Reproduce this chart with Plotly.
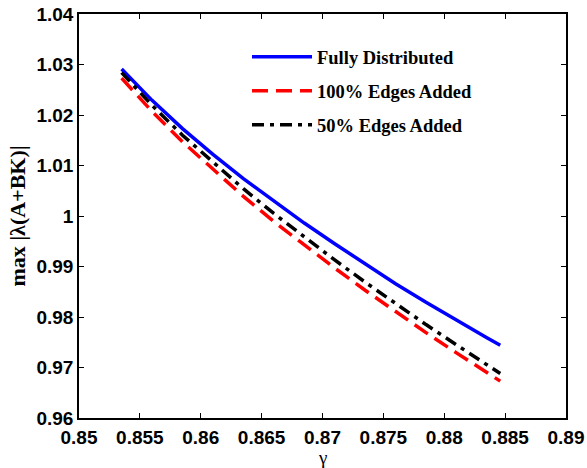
import plotly.graph_objects as go

gamma = [0.8535, 0.856, 0.8585, 0.861, 0.8635, 0.866, 0.8685, 0.871,
         0.8735, 0.876, 0.8785, 0.881, 0.8835, 0.8846]
fully_distributed = [1.0291, 1.0229, 1.0173, 1.0122, 1.0074, 1.0029, 0.9986,
                     0.9945, 0.9905, 0.9866, 0.9829, 0.9793, 0.9759, 0.9744]
edges_100 = [1.0273, 1.0207, 1.0147, 1.0092, 1.0039, 0.9989, 0.9942,
             0.9897, 0.9853, 0.9810, 0.9769, 0.9729, 0.9690, 0.9673]
edges_50 = [1.0284, 1.0219, 1.0160, 1.0106, 1.0054, 1.0005, 0.9958,
            0.9913, 0.9869, 0.9826, 0.9785, 0.9745, 0.9705, 0.9688]

series_names = ["Fully Distributed", "100% Edges Added", "50% Edges Added"]
x_ticks = [0.85, 0.855, 0.86, 0.865, 0.87, 0.875, 0.88, 0.885, 0.89]
x_tick_labels = ["0.85", "0.855", "0.86", "0.865", "0.87", "0.875", "0.88", "0.885", "0.89"]
y_ticks = [0.96, 0.97, 0.98, 0.99, 1.0, 1.01, 1.02, 1.03, 1.04]
y_tick_labels = ["0.96", "0.97", "0.98", "0.99", "1", "1.01", "1.02", "1.03", "1.04"]
x_title = "γ"
y_title = "max |λ(A+BK)|"

fig = go.Figure()
styles = [("#0000ff", "solid"), ("#ff0000", "16px,8px"), ("#000000", "12px,6px,4px,6px")]
for i, (ys, name) in enumerate(zip([fully_distributed, edges_100, edges_50], series_names)):
    c, d = styles[i]
    fig.add_trace(go.Scatter(x=gamma, y=ys, mode="lines", name=name, legendgroup=f"g{i}",
                             line=dict(color=c, width=3.5, dash=d)))

axis_common = dict(showgrid=False, zeroline=False, showline=True, linecolor="black",
                   linewidth=1.5, mirror="allticks", ticks="inside", ticklen=5,
                   tickcolor="black", tickwidth=1, automargin=False,
                   tickfont=dict(family="Liberation Sans", size=19, color="black", weight="bold"))

fig.update_layout(
    template="none",
    width=587, height=468,
    margin=dict(l=79, r=21, t=14, b=50),
    paper_bgcolor="white", plot_bgcolor="white",
    xaxis=dict(range=[0.85, 0.89], tickvals=x_ticks, ticktext=x_tick_labels,
               ticklabelstandoff=1, **axis_common),
    yaxis=dict(range=[0.96, 1.04], tickvals=y_ticks, ticktext=y_tick_labels,
               title=dict(text=y_title, standoff=5,
                          font=dict(family="Liberation Serif", size=22, color="black", weight="bold")),
               ticklabelstandoff=0, **axis_common),
    showlegend=True,
    legend=dict(x=0.345, y=0.94, xanchor="left", yanchor="top",
                bgcolor="rgba(255,255,255,0)", borderwidth=0, tracegroupgap=7,
                itemwidth=60,
                font=dict(family="Liberation Serif", size=18.5, color="black", weight="bold")),
    annotations=[dict(text=x_title, xref="paper", yref="paper", x=0.5, y=0,
                      xanchor="center", yanchor="top", yshift=-27, showarrow=False,
                      font=dict(family="Liberation Serif", size=19, color="black"))],
)

fig.write_html("out.html", config={"displayModeBar": False},
               post_script="document.body.style.margin='0';document.body.style.overflow='hidden';")
